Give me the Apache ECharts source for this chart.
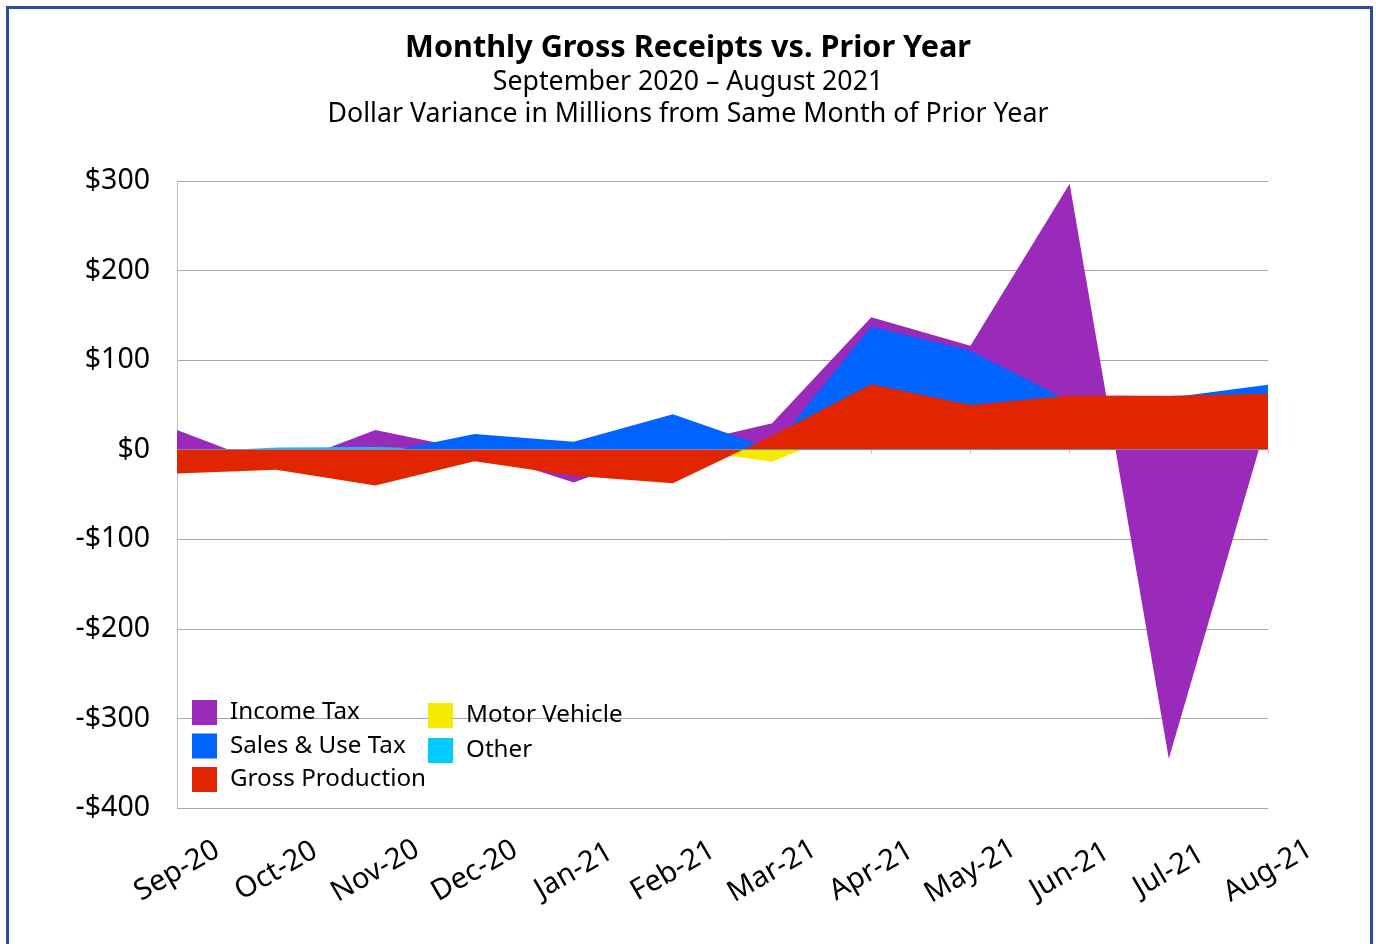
<!DOCTYPE html>
<html>
<head>
<meta charset="utf-8">
<script src="https://cdn.jsdelivr.net/npm/echarts@6/dist/echarts.min.js"></script>
<style>
html,body{margin:0;padding:0;background:#fff;}
#chart{width:1376px;height:944px;}
</style>
</head>
<body>
<div id="chart"></div>
<script>
const categories = ['Sep-20','Oct-20','Nov-20','Dec-20','Jan-21','Feb-21','Mar-21','Apr-21','May-21','Jun-21','Jul-21','Aug-21'];
const incomeTax = [22, -20, 22, -1, -36.5, 3.5, 29.5, 148, 116, 297, -345, 35];
const salesUseTax = [-5, -3, -5, 17.5, 9, 39.5, 1, 137.5, 110.5, 54, 58, 72.5];
const grossProduction = [-26.5, -22.3, -40, -13, -29, -37.5, 15.7, 73.2, 49.8, 60.6, 60.2, 62.5];
const motorVehicle = [-3, -2, -4, -2, -3, 2, -13.5, 32, 18, 12, 8, 10];
const other = [-3, 2.5, 3, 0, 1, 2, 4, 6, 5, 3, 4, 5];
const yTicks = [-400, -300, -200, -100, 0, 100, 200, 300];

const FONT = "'Century Gothic', 'Noto Sans', sans-serif";
const colors = {
  'Income Tax': '#9A2ABA',
  'Sales & Use Tax': '#0062FF',
  'Gross Production': '#E02500',
  'Motor Vehicle': '#F5EB00',
  'Other': '#00CCFF'
};

function area(name, data, extra) {
  return Object.assign({
    name: name,
    type: 'line',
    data: data,
    showSymbol: false,
    symbol: 'none',
    lineStyle: { width: 0, opacity: 0 },
    itemStyle: { color: colors[name] },
    areaStyle: { color: colors[name], opacity: 1 },
    silent: true
  }, extra || {});
}

const chart = echarts.init(document.getElementById('chart'), null, { renderer: 'canvas' });
chart.setOption({
  animation: false,
  backgroundColor: '#fff',
  textStyle: { fontFamily: FONT },
  title: [
    { text: 'Monthly Gross Receipts vs. Prior Year', left: 'center', top: 33, padding: 0,
      textStyle: { fontFamily: FONT, fontSize: 30.6, fontWeight: 'bold', color: '#000' } },
    { text: 'September 2020 \u2013 August 2021', left: 'center', top: 69, padding: 0,
      textStyle: { fontFamily: FONT, fontSize: 26.7, fontWeight: 'normal', color: '#000' } },
    { text: 'Dollar Variance in Millions from Same Month of Prior Year', left: 'center', top: 101, padding: 0,
      textStyle: { fontFamily: FONT, fontSize: 26.7, fontWeight: 'normal', color: '#000' } }
  ],
  graphic: [{
    type: 'rect', silent: true,
    shape: { x: 7.5, y: 7.5, width: 1364, height: 960 },
    style: { fill: 'none', stroke: '#2E4C9C', lineWidth: 3 }
  }],
  legend: [
    { data: ['Income Tax', 'Sales & Use Tax', 'Gross Production'], orient: 'vertical',
      left: 192, top: 700, padding: 0, icon: 'rect', itemWidth: 25, itemHeight: 25, itemGap: 8.5,
      selectedMode: false,
      textStyle: { fontFamily: FONT, fontSize: 24.2, color: '#000', padding: [4, 0, 0, 8] } },
    { data: ['Motor Vehicle', 'Other'], orient: 'vertical',
      left: 428, top: 703, padding: 0, icon: 'rect', itemWidth: 25, itemHeight: 25, itemGap: 10,
      selectedMode: false,
      textStyle: { fontFamily: FONT, fontSize: 24.2, color: '#000', padding: [2, 0, 0, 8] } }
  ],
  grid: { left: 177, right: 108, top: 181, bottom: 136, containLabel: false },
  xAxis: {
    type: 'category', data: categories, boundaryGap: false,
    axisLine: { show: true, lineStyle: { color: '#BFBFBF', width: 1 } },
    axisTick: { show: true, length: 4, inside: false, alignWithLabel: true, lineStyle: { color: '#BFBFBF' } },
    axisLabel: { interval: 0, rotate: 30, align: 'center', verticalAlign: 'middle', margin: 63,
      fontFamily: FONT, fontSize: 29, color: '#000' },
    splitLine: { show: false }
  },
  yAxis: {
    type: 'value', min: -400, max: 300, interval: 100,
    axisLine: { show: true, lineStyle: { color: '#BFBFBF', width: 1 } },
    axisTick: { show: false },
    axisLabel: { margin: 27, fontFamily: FONT, fontSize: 28.5, color: '#000', padding: [5, 0, 0, 0],
      formatter: function (v) { return yTicks.indexOf(v) < 0 ? '' : (v < 0 ? '-$' + Math.abs(v) : '$' + v); } },
    splitLine: { show: true, lineStyle: { color: '#A6A6A6', width: 1 } }
  },
  series: [
    area('Income Tax', incomeTax),
    area('Motor Vehicle', motorVehicle),
    area('Other', other),
    area('Sales & Use Tax', salesUseTax),
    area('Gross Production', grossProduction, {
      markLine: { silent: true, symbol: 'none', label: { show: false },
        lineStyle: { color: '#8A86A6', width: 1, type: 'solid' },
        data: [{ yAxis: 0 }] }
    })
  ]
});
</script>
</body>
</html>
